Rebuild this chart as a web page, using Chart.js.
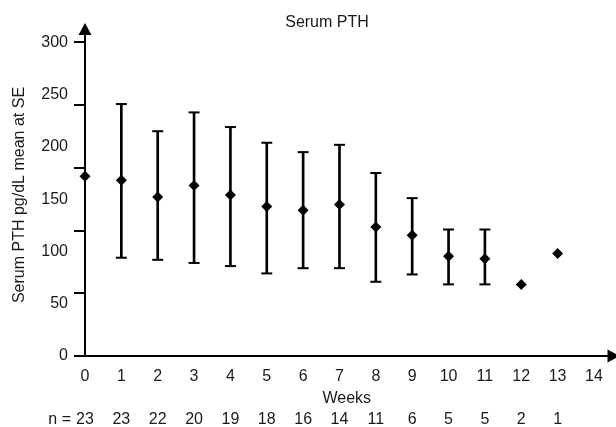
<!DOCTYPE html>
<html>
<head>
<meta charset="utf-8">
<script src="https://cdn.jsdelivr.net/npm/chart.js@4.4.1/dist/chart.umd.min.js"></script>
<style>
  html, body { margin: 0; padding: 0; background: #ffffff; }
  #wrap { width: 616px; height: 427px; }
</style>
</head>
<body>
<div id="wrap"><canvas id="c" width="616" height="427"></canvas></div>
<script>
// ---- data ----
const chartTitle = "Serum PTH";
const yAxisTitle = "Serum PTH pg/dL mean at SE";
const xAxisTitle = "Weeks";
const weeks   = [0, 1, 2, 3, 4, 5, 6, 7, 8, 9, 10, 11, 12, 13];
const means   = [172, 168, 152, 163, 154, 143, 139.5, 145, 123.5, 115.6, 95.5, 93, 68.5, 98];
const upperSE = [null, 241, 215, 233, 219, 204, 195, 202, 175, 151, 121, 121, null, null];
const lowerSE = [null, 94, 92, 89, 86, 79, 84, 84, 71, 78, 68.5, 68.5, null, null];
const nValues = [23, 23, 22, 20, 19, 18, 16, 14, 11, 6, 5, 5, 2, 1];
const xTickValues = [0, 1, 2, 3, 4, 5, 6, 7, 8, 9, 10, 11, 12, 13, 14];
const yLabelValues = [0, 50, 100, 150, 200, 250, 300];
const yTickMarkValues = [0, 60, 120, 180, 240, 300];

const FONT = "'Liberation Sans', Arial, sans-serif";
const FS = 16;

// ---- build datasets ----
const meanPts = weeks.map((w, i) => ({ x: w, y: means[i] }));
const stemPts = [];
const capPts = [];
weeks.forEach((w, i) => {
  if (upperSE[i] != null && lowerSE[i] != null) {
    stemPts.push({ x: w, y: [lowerSE[i], upperSE[i]] });
    capPts.push({ x: w, y: upperSE[i] });
    capPts.push({ x: w, y: lowerSE[i] });
  }
});
const yAllTicks = Array.from(new Set(yLabelValues.concat(yTickMarkValues))).sort((a, b) => a - b);

const arrowsAndText = {
  id: 'arrowsAndText',
  afterDraw(chart) {
    const ctx = chart.ctx;
    const a = chart.chartArea;
    ctx.save();
    ctx.fillStyle = '#000';
    // y arrow
    ctx.beginPath();
    ctx.moveTo(a.left, a.top - 11);
    ctx.lineTo(a.left - 6.5, a.top + 1);
    ctx.lineTo(a.left + 6.5, a.top + 1);
    ctx.closePath();
    ctx.fill();
    // x arrow
    ctx.beginPath();
    ctx.moveTo(a.right + 11, a.bottom);
    ctx.lineTo(a.right - 1, a.bottom - 6.5);
    ctx.lineTo(a.right - 1, a.bottom + 6.5);
    ctx.closePath();
    ctx.fill();
    // chart title
    ctx.font = FS + "px " + FONT;
    ctx.textAlign = 'center';
    ctx.textBaseline = 'middle';
    ctx.fillStyle = '#1a1a1a';
    ctx.fillText(chartTitle, 327, 23);
    // "n =" prefix of the n row
    const xn = chart.scales.xn;
    const x0 = xn.getPixelForValue(weeks[0]);
    ctx.textAlign = 'right';
    ctx.fillText("n =", x0 - 14, 419.5);
    ctx.restore();
  }
};

new Chart(document.getElementById('c'), {
  type: 'scatter',
  data: {
    datasets: [
      {
        label: 'mean',
        data: meanPts,
        pointStyle: 'rectRot',
        pointRadius: 5.5,
        pointHoverRadius: 5.5,
        backgroundColor: '#000',
        borderColor: '#000',
        borderWidth: 0,
        showLine: false,
        clip: false,
        order: 0
      },
      {
        label: 'caps',
        data: capPts,
        pointStyle: 'line',
        pointRadius: 5.5,
        pointHoverRadius: 5.5,
        borderColor: '#000',
        borderWidth: 2,
        showLine: false,
        clip: false,
        order: 1
      },
      {
        type: 'bar',
        label: 'stems',
        data: stemPts,
        backgroundColor: '#000',
        barThickness: 2,
        borderWidth: 0,
        clip: false,
        order: 2
      }
    ]
  },
  options: {
    responsive: false,
    animation: false,
    events: [],
    layout: { padding: { left: 4, top: 34, right: 5, bottom: 0 } },
    plugins: { legend: { display: false }, tooltip: { enabled: false }, title: { display: false } },
    scales: {
      x: {
        type: 'linear',
        position: 'bottom',
        min: 0,
        max: 14.4,
        offset: false,
        afterBuildTicks(s) { s.ticks = xTickValues.map(v => ({ value: v })); },
        afterFit(s) { s.height = 52.2; },
        ticks: {
          autoSkip: false,
          maxRotation: 0,
          padding: 10.5,
          color: '#1a1a1a',
          font: { family: FONT, size: FS },
          callback: v => String(v)
        },
        grid: { display: true, drawOnChartArea: false, drawTicks: false, color: 'rgba(0,0,0,0)' },
        border: { display: true, color: '#000', width: 2 },
        title: {
          display: true,
          text: xAxisTitle,
          color: '#1a1a1a',
          font: { family: FONT, size: FS },
          padding: { top: 0, bottom: 0 }
        }
      },
      xn: {
        type: 'linear',
        position: 'bottom',
        min: 0,
        max: 14.4,
        offset: false,
        afterBuildTicks(s) { s.ticks = weeks.map(v => ({ value: v })); },
        afterFit(s) { s.height = 18.8; },
        ticks: {
          autoSkip: false,
          maxRotation: 0,
          padding: 2,
          color: '#1a1a1a',
          font: { family: FONT, size: FS },
          callback: (v) => { const i = weeks.indexOf(v); return i >= 0 ? String(nValues[i]) : ''; }
        },
        grid: { display: false, drawTicks: false },
        border: { display: false }
      },
      y: {
        type: 'linear',
        position: 'left',
        min: 0,
        max: 308,
        afterBuildTicks(s) { s.ticks = yAllTicks.map(v => ({ value: v })); },
        afterFit(s) { s.width = 81; },
        ticks: {
          autoSkip: false,
          padding: 6,
          color: '#1a1a1a',
          font: { family: FONT, size: FS },
          callback: v => (yLabelValues.includes(v) ? String(v) : '')
        },
        grid: {
          display: true,
          drawOnChartArea: false,
          drawTicks: true,
          tickLength: 11,
          lineWidth: 2,
          color: c => (c.tick && yTickMarkValues.includes(c.tick.value) ? '#000' : 'rgba(0,0,0,0)')
        },
        border: { display: true, color: '#000', width: 2 },
        title: {
          display: true,
          text: yAxisTitle,
          color: '#1a1a1a',
          font: { family: FONT, size: FS },
          padding: { top: 6.4, bottom: 0 }
        }
      }
    }
  },
  plugins: [arrowsAndText]
});
</script>
</body>
</html>
